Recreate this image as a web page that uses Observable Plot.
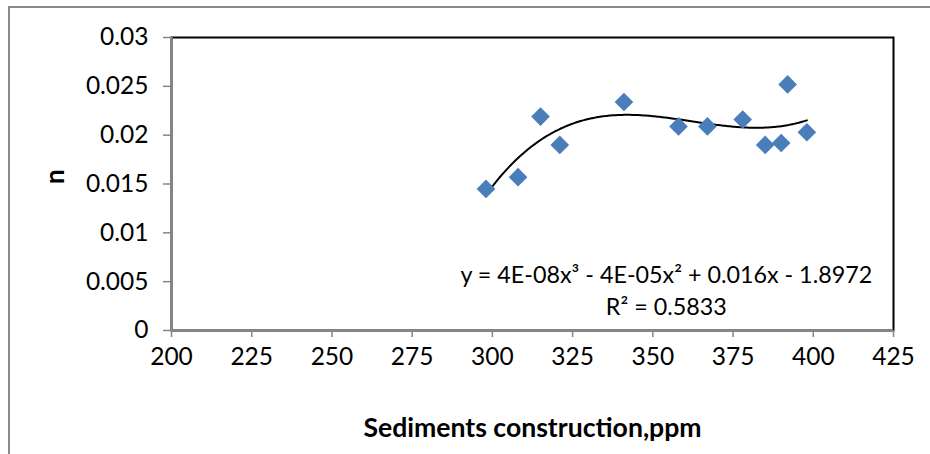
<!DOCTYPE html>
<html>
<head>
<meta charset="utf-8">
<script src="https://cdn.jsdelivr.net/npm/d3@7"></script>
<script src="https://cdn.jsdelivr.net/npm/@observablehq/plot@0.6"></script>
<style>
  html, body { margin: 0; padding: 0; background: #fff; }
  #wrap { position: relative; width: 930px; height: 454px; overflow: hidden; }
  #frame { position: absolute; left: 8px; top: 6px; width: 960px; height: 500px;
           border-left: 2px solid #8a8a8a; border-top: 2px solid #8a8a8a; pointer-events: none; }
  svg { font-family: Lato, "Open Sans", sans-serif; }
</style>
</head>
<body>
<div id="wrap"><div id="frame"></div></div>
<script>
// Data
const sediments = [298, 308, 315, 321, 341, 358, 367, 378, 385, 390, 392, 398];
const nValues   = [0.0145, 0.0157, 0.0219, 0.0190, 0.0234, 0.0209, 0.0209, 0.0216, 0.0190, 0.0192, 0.0252, 0.0203];
const xTicks = [200, 225, 250, 275, 300, 325, 350, 375, 400, 425];
const yTicks = [0, 0.005, 0.01, 0.015, 0.02, 0.025, 0.03];
const xTitle = "Sediments construction,ppm";
const yTitle = "n";
const equationLines = ["y = 4E-08x³ - 4E-05x² + 0.016x - 1.8972", "R² = 0.5833"];

const points = sediments.map((x, i) => ({x, y: nValues[i]}));

// Cubic least-squares trendline fitted to the points (as Excel's polynomial trendline)
function polyFit(xs, ys, deg) {
  const xm = d3.mean(xs);
  const n = deg + 1;
  const A = Array.from({length: n}, () => new Array(n + 1).fill(0));
  xs.forEach((xv, k) => {
    const t = xv - xm;
    for (let i = 0; i < n; i++) {
      for (let j = 0; j < n; j++) A[i][j] += Math.pow(t, i + j);
      A[i][n] += ys[k] * Math.pow(t, i);
    }
  });
  for (let c = 0; c < n; c++) {
    let p = c;
    for (let r = c + 1; r < n; r++) if (Math.abs(A[r][c]) > Math.abs(A[p][c])) p = r;
    [A[c], A[p]] = [A[p], A[c]];
    for (let r = 0; r < n; r++) {
      if (r === c) continue;
      const f = A[r][c] / A[c][c];
      for (let k = c; k <= n; k++) A[r][k] -= f * A[c][k];
    }
  }
  const coef = A.map((row, i) => row[n] / row[i]);
  return xv => coef.reduce((s, c, i) => s + c * Math.pow(xv - xm, i), 0);
}
const fit = polyFit(sediments, nValues, 3);
const trend = d3.range(d3.min(sediments), d3.max(sediments) + 0.25, 0.5).map(x => ({x, y: fit(x)}));

const gray = "#868686";
const fontSize = 24.5;

const chart = Plot.plot({
  width: 930,
  height: 454,
  marginLeft: 171,
  marginTop: 37,
  marginRight: 37,
  marginBottom: 124,
  style: {fontFamily: "Lato, 'Open Sans', sans-serif", fontSize: fontSize + "px", background: "transparent"},
  x: {domain: [200, 425]},
  y: {domain: [0, 0.03]},
  marks: [
    Plot.frame({stroke: "#000", strokeWidth: 2}),
    Plot.ruleX([200], {stroke: gray, strokeWidth: 2.5}),
    Plot.ruleY([0], {stroke: gray, strokeWidth: 2.5}),
    Plot.axisY({ticks: yTicks, tickFormat: d => String(d), tickSize: 8, tickPadding: 15,
                stroke: gray, strokeWidth: 1.5, fill: "#000", fontSize: fontSize, label: null}),
    Plot.axisX({ticks: xTicks, tickFormat: d => String(d), tickSize: 7, tickPadding: 10,
                stroke: gray, strokeWidth: 1.5, fill: "#000", fontSize: fontSize, label: null}),
    Plot.line(trend, {x: "x", y: "y", stroke: "#000", strokeWidth: 2}),
    Plot.dot(points, {x: "x", y: "y", symbol: "diamond2", r: 8.4, fill: "#4A7EBB", stroke: "none"}),
    Plot.text([equationLines.join("\n")], {x: 354.2, y: 0.0043, text: d => d, fill: "#000",
                fontSize: 23.3, lineHeight: 1.37, textAnchor: "middle"}),
    Plot.text([xTitle], {frameAnchor: "bottom", dy: 106, text: d => d, fontWeight: "bold",
                fontSize: 26.6, fill: "#000"}),
    Plot.text([yTitle], {frameAnchor: "left", dx: -116, text: d => d, fontWeight: "bold",
                fontSize: 26, rotate: -90, fill: "#000"})
  ]
});
document.getElementById("wrap").prepend(chart);
chart.style.position = "absolute";
chart.style.left = "0";
chart.style.top = "0";
</script>
</body>
</html>
